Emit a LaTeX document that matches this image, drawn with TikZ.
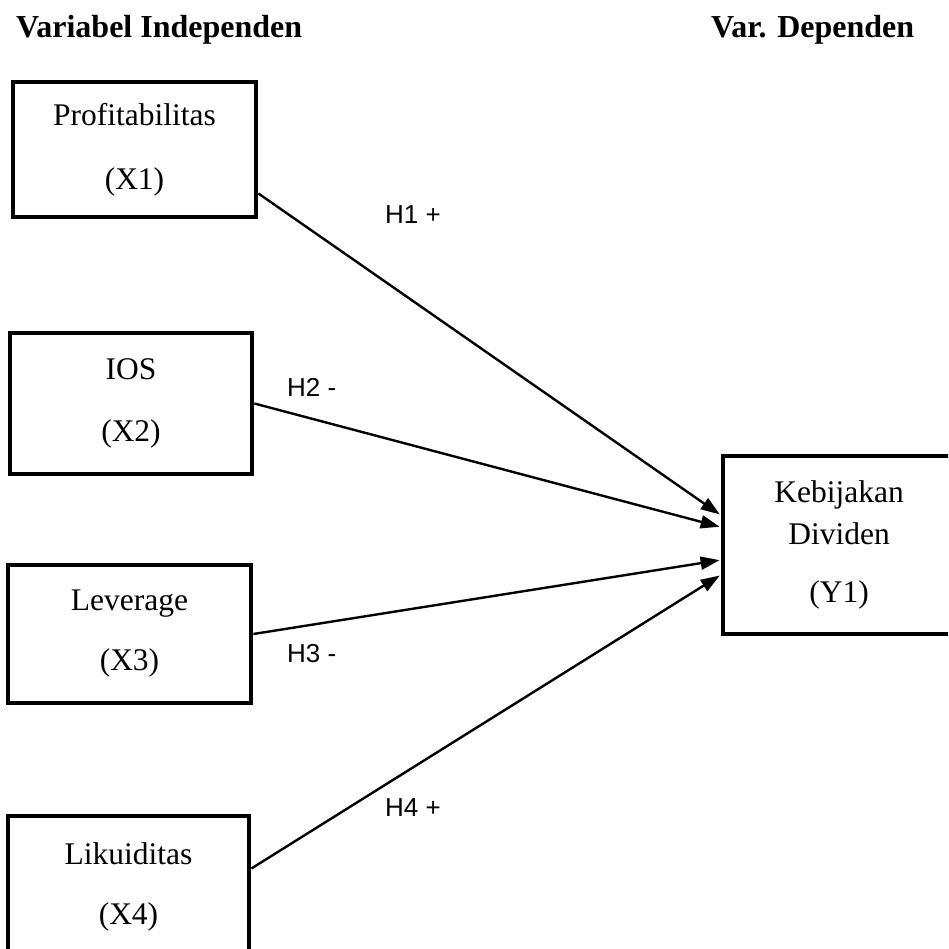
\documentclass[tikz,border=0pt]{standalone}
\usepackage{fontspec}
\setmainfont{Liberation Serif}
\newfontfamily\labelfont{Liberation Sans}
\usetikzlibrary{arrows.meta,calc}
\begin{document}
\begin{tikzpicture}[x=1pt,y=-1pt,
  varbox/.style={draw,line width=4.8pt,rectangle,align=center,inner sep=0pt,
    font=\fontsize{31.5}{38}\selectfont},
  link/.style={line width=2.4pt,-{Triangle[length=19pt,width=13pt]},shorten >=1pt},
  hyp/.style={font=\labelfont\fontsize{26}{30}\selectfont,anchor=west,inner sep=0pt},
  head/.style={font=\bfseries\fontsize{32}{38}\selectfont,anchor=west,inner sep=0pt}]
\clip (0,0) rectangle (948,949);
\fill[white] (0,0) rectangle (948,949);

\node[head] (hind) at (16,30) {Variabel Independen};
\node[head] (hdep) at (711,30) {Var. Dependen};

\node[varbox,minimum width=243pt,minimum height=135pt] (x1) at (134.5,149.5) {Profitabilitas\\[26pt](X1)};
\node[varbox,minimum width=242pt,minimum height=141pt] (x2) at (131,403.5) {IOS\\[24pt](X2)};
\node[varbox,minimum width=243pt,minimum height=138pt] (x3) at (129.5,634) {Leverage\\[22pt](X3)};
\node[varbox,minimum width=241pt,minimum height=141pt] (x4) at (128.5,886.5) {Likuiditas\\[22pt](X4)};
\node[varbox,minimum width=232pt,minimum height=178pt] (y1) at (839,545) {Kebijakan\\[4pt]Dividen\\[20pt](Y1)};

\draw[link] ($(x1.east)+(0,44)$) -- ($(y1.west)+(0,-30)$);
\draw[link] (x2.east) -- ($(y1.west)+(0,-18)$);
\draw[link] (x3.east) -- ($(y1.west)+(0,15)$);
\draw[link] ($(x4.east)+(0,-18)$) -- ($(y1.west)+(0,30)$);

\node[hyp] (h1) at (385,215) {H1 +};
\node[hyp] (h2) at (287,387) {H2 -};
\node[hyp] (h3) at (287,654) {H3 -};
\node[hyp] (h4) at (385,808) {H4 +};
\end{tikzpicture}
\end{document}
